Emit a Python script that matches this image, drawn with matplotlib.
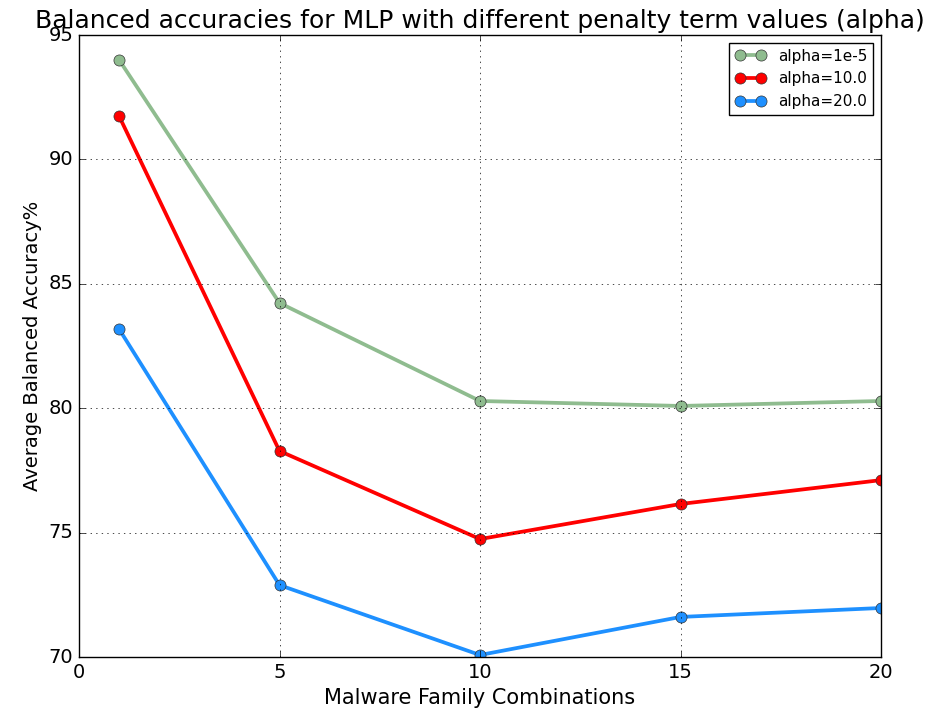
import matplotlib
matplotlib.use('Agg')
import matplotlib.pyplot as plt

plt.style.use('classic')

combos = [1, 5, 10, 15, 20]
acc_1e5 = [94.0, 84.23, 80.29, 80.09, 80.29]
acc_10 = [91.74, 78.28, 74.74, 76.15, 77.11]
acc_20 = [83.18, 72.89, 70.08, 71.61, 71.97]

fig = plt.figure(figsize=(9.51, 7.21), dpi=100, facecolor='white')
ax = fig.add_axes([79/951, 64/721, 802/951, 622/721])

ax.plot(combos, acc_1e5, 'o-', color='darkseagreen', lw=2.7, ms=8, mec='#333333', label='alpha=1e-5')
ax.plot(combos, acc_10, 'o-', color='red', lw=2.7, ms=8, mec='#333333', label='alpha=10.0')
ax.plot(combos, acc_20, 'o-', color='dodgerblue', lw=2.7, ms=8, mec='#333333', label='alpha=20.0')

ax.set_xlim(0, 20)
ax.set_ylim(70, 95)
ax.set_xticks([0, 5, 10, 15, 20])
ax.set_yticks([70, 75, 80, 85, 90, 95])
ax.tick_params(labelsize=14)
ax.grid(True)
ax.set_title('Balanced accuracies for MLP with different penalty term values (alpha)', fontsize=18)
ax.set_xlabel('Malware Family Combinations', fontsize=15)
ax.set_ylabel('Average Balanced Accuracy%', fontsize=14)
ax.legend(loc='upper right', fontsize=11, numpoints=2)

fig.savefig('out.png', dpi=100, facecolor='white')
